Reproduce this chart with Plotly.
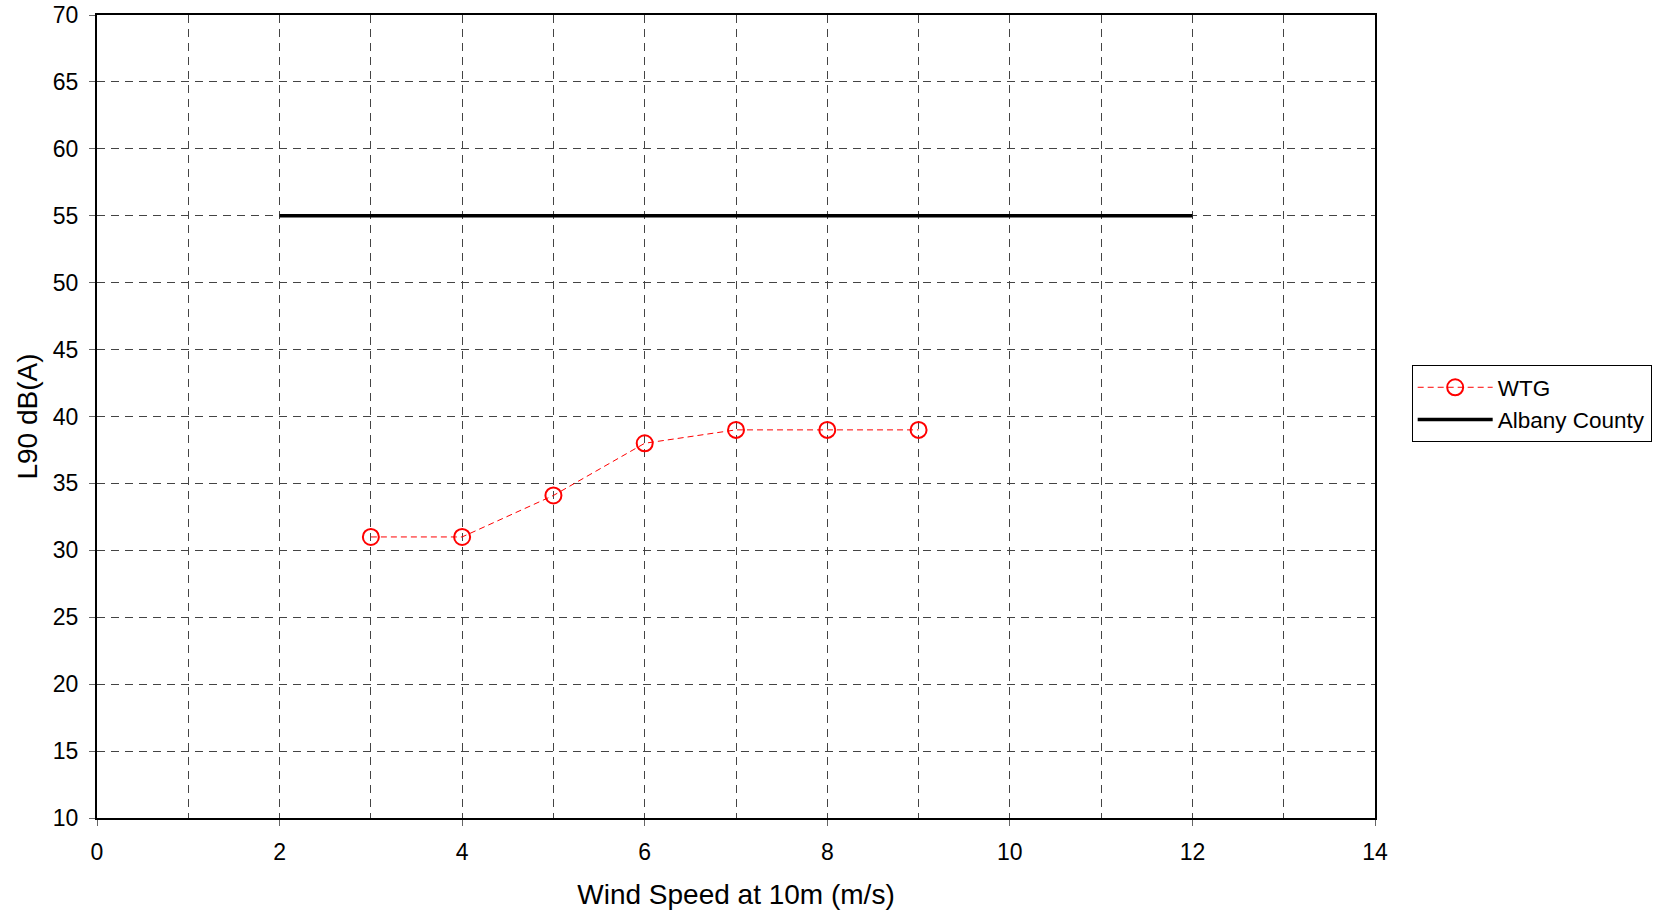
import plotly.graph_objects as go

wtg_speed = [3, 4, 5, 6, 7, 8, 9]
wtg_l90 = [31, 31, 34.1, 38, 39, 39, 39]
albany_speed = [2, 12]
albany_limit = [55, 55]
x_ticks = [0, 2, 4, 6, 8, 10, 12, 14]
y_ticks = [10, 15, 20, 25, 30, 35, 40, 45, 50, 55, 60, 65, 70]

FONT = "Liberation Sans, Arial, sans-serif"

fig = go.Figure()
fig.add_trace(go.Scatter(
    x=wtg_speed, y=wtg_l90, name="WTG", mode="lines+markers",
    line=dict(color="#ff0000", width=1, dash="6px,4px"),
    marker=dict(symbol="circle-open", size=16, color="#ff0000", line=dict(width=2, color="#ff0000")),
))
fig.add_trace(go.Scatter(
    x=albany_speed, y=albany_limit, name="Albany County", mode="lines",
    line=dict(color="#000000", width=3.5),
))

fig.update_layout(
    width=1654, height=912,
    margin=dict(l=97, r=279, t=15, b=94, autoexpand=False),
    plot_bgcolor="white", paper_bgcolor="white",
    font=dict(family=FONT, size=23, color="black"),
    showlegend=True,
    legend=dict(
        x=1.0287, y=0.516, xanchor="left", yanchor="middle",
        bordercolor="black", borderwidth=1, bgcolor="white",
        font=dict(family=FONT, size=22.5, color="black"),
        tracegroupgap=0, itemwidth=75,
    ),
)
fig.update_xaxes(
    range=[0, 14], tickvals=x_ticks, ticktext=[str(v) for v in x_ticks],
    showgrid=True, gridcolor="#444444", gridwidth=1, griddash="8px,6px",
    showline=True, linecolor="black", linewidth=2, mirror=True,
    ticks="outside", ticklen=6, tickcolor="#666666",
    tickfont=dict(size=23), zeroline=False, automargin=False,
    ticklabelstandoff=6, ticklabeloverflow="allow",
    title=dict(text="Wind Speed at 10m (m/s)", font=dict(size=28), standoff=21),
)
fig.update_yaxes(
    range=[10, 70], tickvals=y_ticks, ticktext=[str(v) for v in y_ticks],
    showgrid=True, gridcolor="#444444", gridwidth=1, griddash="8px,6px",
    showline=True, linecolor="black", linewidth=2, mirror=True,
    ticks="outside", ticklen=6, tickcolor="#666666",
    tickfont=dict(size=23), zeroline=False, automargin=False,
    ticklabelstandoff=6, ticklabeloverflow="allow",
    title=dict(text="L90 dB(A)", font=dict(size=28), standoff=7),
)
fig.update_xaxes(minor=dict(tickvals=[1, 3, 5, 7, 9, 11, 13], showgrid=True,
                            gridcolor="#444444", gridwidth=1, griddash="8px,6px", ticks=""))

fig.write_html(
    "out.html",
    config={"displayModeBar": False},
    post_script="document.body.style.margin='0';document.body.style.overflow='hidden';",
)
